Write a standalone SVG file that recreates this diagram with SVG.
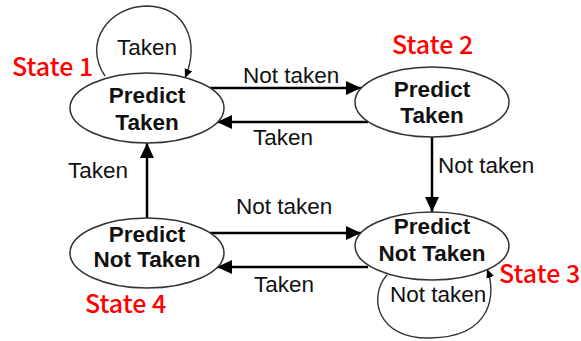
<svg xmlns="http://www.w3.org/2000/svg" width="581" height="341" viewBox="0 0 581 341">
<style>
.node ellipse{fill:#fff;stroke:#333;stroke-width:1.5}
.bold{font-family:"Liberation Sans",Arial,sans-serif;font-weight:bold;font-size:22.5px;fill:#111;text-anchor:middle}
.lbl{font-family:"Liberation Sans",Arial,sans-serif;font-size:22.5px;fill:#111}
.state{font-family:"Noto Sans CJK SC","Noto Sans",sans-serif;font-weight:500;font-size:25px;fill:#ff0000}
.arr{stroke:#000;stroke-width:2.5;fill:none;marker-end:url(#ah)}
.loop{stroke:#333;stroke-width:1.4;fill:none;marker-end:url(#sh)}
</style>
<defs>
<marker id="ah" markerUnits="userSpaceOnUse" markerWidth="16" markerHeight="14" refX="15" refY="7" orient="auto">
<path d="M0,0 L15,7 L0,14 z" fill="#000"/>
</marker>
<marker id="sh" markerUnits="userSpaceOnUse" markerWidth="10" markerHeight="10" refX="9" refY="4" orient="auto">
<path d="M0,0 L9,4 L0,8 z" fill="#000"/>
</marker>
</defs>
<rect width="581" height="341" fill="#fff"/>
<g id="connectors">
<line class="arr" x1="210" y1="88" x2="361" y2="88"/>
<line class="arr" x1="368" y1="122" x2="217" y2="122"/>
<line class="arr" x1="432" y1="137" x2="432" y2="212"/>
<line class="arr" x1="147" y1="218" x2="147" y2="143"/>
<line class="arr" x1="210" y1="233" x2="361" y2="233"/>
<line class="arr" x1="368" y1="267" x2="217" y2="267"/>
<path class="loop" d="M105,76 C 82,42 110,6 147,6 C 186,7 200,42 185,78"/>
<path class="loop" d="M387,275 C 368,296 376,339 430,338 C 494,337 496,292 487,269"/>
<text class="lbl" x="243" y="83">Not taken</text>
<text class="lbl" x="253" y="145">Taken</text>
<text class="lbl" x="438" y="173">Not taken</text>
<text class="lbl" x="68" y="178">Taken</text>
<text class="lbl" x="236" y="214">Not taken</text>
<text class="lbl" x="254" y="292">Taken</text>
<text class="lbl" x="117" y="55">Taken</text>
<text class="lbl" x="390" y="302">Not taken</text>
</g>
<g id="state1" class="node">
<ellipse cx="147" cy="108" rx="77" ry="35"/>
<text class="bold" x="147" y="103">Predict</text>
<text class="bold" x="147" y="130">Taken</text>
</g>
<g id="state2" class="node">
<ellipse cx="432" cy="102" rx="77" ry="35"/>
<text class="bold" x="432" y="97">Predict</text>
<text class="bold" x="432" y="123">Taken</text>
</g>
<g id="state3" class="node">
<ellipse cx="432" cy="246" rx="77" ry="34"/>
<text class="bold" x="432" y="234">Predict</text>
<text class="bold" x="432" y="261">Not Taken</text>
</g>
<g id="state4" class="node">
<ellipse cx="147" cy="253" rx="77" ry="35"/>
<text class="bold" x="147" y="242">Predict</text>
<text class="bold" x="147" y="267">Not Taken</text>
</g>
<g id="state-labels">
<text class="state" x="12" y="76">State 1</text>
<text class="state" x="392" y="54">State 2</text>
<text class="state" x="499" y="283">State 3</text>
<text class="state" x="85" y="313">State 4</text>
</g>
</svg>
